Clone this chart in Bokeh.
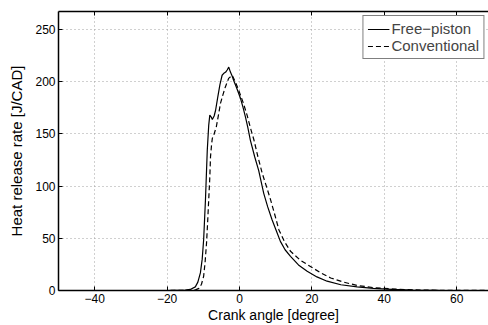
from bokeh.plotting import figure
from bokeh.models import Range1d, LinearAxis, FixedTicker, Legend, LegendItem
from bokeh.embed import file_html
from bokeh.resources import INLINE

# Free-piston engine heat release rate
fp_angle = [-50, -20, -15, -13.6, -12.2, -11.5, -10.8, -10.3, -9.9, -9.4, -8.9, -8.5, -8.2,
            -7.8, -7.5, -7.0, -6.6, -6.0, -5.4, -4.8, -4.4, -3.8, -3.4, -2.96, -2.5, -2.0,
            -1.6, -0.8, 0.3, 1.0, 1.66, 2.3, 3.0, 4.2, 5.3, 6.0, 6.7, 7.8, 9.0, 10.2, 11.3,
            12.6, 14.1, 16.3, 18.7, 21.4, 24.2, 28, 32.5, 37, 42, 48, 55, 70]
fp_hrr = [0, 0, 0.3, 1, 3.5, 8, 16.8, 30, 48.6, 86.7, 134, 158, 167.8,
          166, 163.7, 167, 172.5, 185, 197, 206, 207.6, 209, 211, 213.8, 209, 205,
          201, 194, 183.7, 175, 166, 156, 144, 128, 115, 104, 93, 80, 67.7, 57, 47,
          39, 32.7, 24.5, 18.4, 13, 8.9, 5.5, 3.5, 2, 1, 0.4, 0.1, 0]

# Conventional engine heat release rate
cv_angle = [-50, -20, -13, -12, -11.2, -10.5, -9.9, -9.5, -9.1, -8.8, -8.5, -8.2, -8.0,
            -7.7, -7.5, -7.1, -6.4, -5.8, -5.25, -4.6, -3.9, -3.0, -2.0, -1.2, -0.2, 1.0,
            2.1, 3.0, 4.0, 5.1, 6.3, 7.5, 8.6, 9.8, 10.9, 12.4, 14.1, 16.8, 19.6, 22.4,
            25.2, 28.8, 32.5, 37, 42, 48, 55, 70]
cv_hrr = [0, 0, 0.3, 0.8, 2, 6, 13.6, 27, 45.5, 65, 86.7, 108, 128,
          140, 145.6, 148.7, 156.6, 168, 179, 187, 194.8, 203, 206, 200, 191.6, 180,
          167.8, 156, 144, 128, 112, 99, 86.7, 72, 58, 47, 37.5, 29, 23, 17,
          12, 8, 4.8, 2.8, 1.5, 0.6, 0.2, 0]

x_ticks = [-40, -20, 0, 20, 40, 60]
y_ticks = [0, 50, 100, 150, 200, 250]
labels = ["Free\u2212piston", "Conventional"]

FONT = "Liberation Sans"

p = figure(width=488, height=325, output_backend="svg", toolbar_location=None,
           x_range=Range1d(-50, 68.8), y_range=Range1d(0, 267),
           x_axis_location=None, y_axis_location=None,
           min_border_left=58, min_border_right=0, min_border_top=11, min_border_bottom=34)
p.outline_line_color = None
p.background_fill_color = "white"
p.border_fill_color = "white"

def style_axis(ax, ticks, show_labels=True):
    ax.ticker = FixedTicker(ticks=ticks)
    ax.minor_tick_line_color = None
    ax.major_tick_in = 4
    ax.major_tick_out = 0
    ax.axis_line_color = "black"
    ax.axis_line_width = 1.5
    ax.major_tick_line_color = "black"
    ax.major_tick_line_width = 1
    ax.major_label_text_font = FONT
    ax.major_label_text_font_size = "12px"
    ax.major_label_text_color = "black" if show_labels else None
    ax.axis_label_text_font = FONT
    ax.axis_label_text_font_size = "14px"
    ax.axis_label_text_font_style = "normal"
    ax.axis_label_text_color = "black"

xax = LinearAxis(axis_label="Crank angle [degree]")
style_axis(xax, x_ticks)
xax.major_label_standoff = 3
xax.axis_label_standoff = 1
p.add_layout(xax, "below")

yax = LinearAxis(axis_label="Heat release rate [J/CAD]")
style_axis(yax, y_ticks)
yax.axis_label_text_font_size = "15px"
yax.major_label_standoff = 3
yax.axis_label_standoff = 7
p.add_layout(yax, "left")

tax = LinearAxis()
style_axis(tax, x_ticks, show_labels=False)
tax.major_label_standoff = 0
p.add_layout(tax, "above")

p.xgrid.ticker = FixedTicker(ticks=x_ticks)
p.ygrid.ticker = FixedTicker(ticks=y_ticks[1:])
for g in (p.xgrid, p.ygrid):
    g.grid_line_color = "#a0a0a0"
    g.grid_line_dash = "1 3"
    g.grid_line_width = 1

r1 = p.line(fp_angle, fp_hrr, line_color="black", line_width=1.2)
r2 = p.line(cv_angle, cv_hrr, line_color="black", line_width=1.2, line_dash="5 3")

legend = Legend(items=[LegendItem(label=labels[0], renderers=[r1]),
                       LegendItem(label=labels[1], renderers=[r2])],
                location="top_right")
legend.margin = 4
legend.padding = 4
legend.spacing = 0
legend.glyph_width = 22
legend.glyph_height = 16
legend.label_standoff = 2
legend.label_text_font = FONT
legend.label_text_font_size = "15px"
legend.label_height = 16
legend.border_line_color = "black"
legend.border_line_width = 1
legend.background_fill_color = "white"
legend.background_fill_alpha = 1
p.add_layout(legend, "center")

open("out.html", "w").write(file_html(p, INLINE))
